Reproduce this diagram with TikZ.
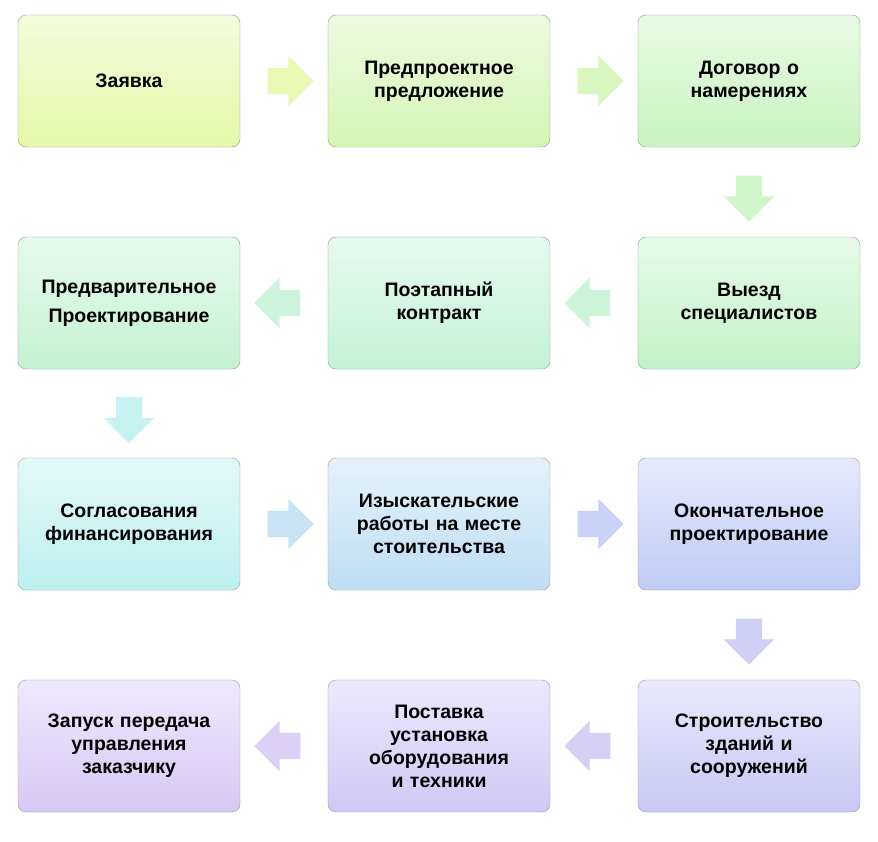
\documentclass[tikz,border=0pt]{standalone}
\usepackage{fontspec}
\setmainfont{Liberation Sans}
\usetikzlibrary{shapes.arrows,calc}
\definecolor{cA}{RGB}{228,248,168}
\definecolor{cB}{RGB}{212,245,180}
\definecolor{cC}{RGB}{200,243,190}
\definecolor{cD}{RGB}{195,242,210}
\definecolor{cE}{RGB}{195,242,215}
\definecolor{cF}{RGB}{195,242,200}
\definecolor{cG}{RGB}{188,240,238}
\definecolor{cH}{RGB}{190,222,242}
\definecolor{cI}{RGB}{192,202,245}
\definecolor{cJ}{RGB}{215,200,245}
\definecolor{cK}{RGB}{208,200,245}
\definecolor{cL}{RGB}{200,200,245}
\tikzset{
  stagebox/.style={draw=gray!80, rounded corners=8pt, minimum width=222pt, minimum height=132pt,
    text width=180pt, align=center, font=\bfseries\fontsize{19.5}{23}\selectfont,
    top color=white!60!#1, bottom color=#1},
  flowarrow/.style={single arrow, draw=none, minimum height=46pt, inner sep=13pt,
    single arrow head extend=12pt, fill=#1!85!white}
}
\begin{document}
\begin{tikzpicture}[x=1pt,y=1pt,yscale=-1]
\useasboundingbox (0,0) rectangle (878,841);
% row 1
\node[stagebox=cA] (zayavka) at (129,81) {Заявка};
\node[stagebox=cB] (predproekt) at (439,81) {Предпроектное предложение};
\node[stagebox=cC] (dogovor) at (749,81) {Договор о намерениях};
% row 2
\node[stagebox=cD] (predvar) at (129,303) {Предварительное\\[6pt]Проектирование};
\node[stagebox=cE] (poetap) at (439,303) {Поэтапный\\контракт};
\node[stagebox=cF] (vyezd) at (749,303) {Выезд\\специалистов};
% row 3
\node[stagebox=cG] (soglas) at (129,524) {Согласования финансирования};
\node[stagebox=cH] (izysk) at (439,524) {Изыскательские работы на месте стоительства};
\node[stagebox=cI] (okonch) at (749,524) {Окончательное проектирование};
% row 4
\node[stagebox=cJ] (zapusk) at (129,746) {Запуск передача управления заказчику};
\node[stagebox=cK] (postavka) at (439,746) {Поставка\\установка оборудования и техники};
\node[stagebox=cL] (stroit) at (749,746) {Строительство зданий и сооружений};
% arrows
\node[flowarrow=cA] (a1) at ($(zayavka.east)!0.5!(predproekt.west)$) {};
\node[flowarrow=cB] (a2) at ($(predproekt.east)!0.5!(dogovor.west)$) {};
\node[flowarrow=cC, shape border rotate=270] (a3) at ($(dogovor.south)!0.5!(vyezd.north)$) {};
\node[flowarrow=cD, shape border rotate=180] (a4) at ($(vyezd.west)!0.5!(poetap.east)$) {};
\node[flowarrow=cE, shape border rotate=180] (a5) at ($(poetap.west)!0.5!(predvar.east)$) {};
\node[flowarrow=cG, shape border rotate=270] (a6) at ($(predvar.south)!0.5!(soglas.north)$) {};
\node[flowarrow=cH] (a7) at ($(soglas.east)!0.5!(izysk.west)$) {};
\node[flowarrow=cI] (a8) at ($(izysk.east)!0.5!(okonch.west)$) {};
\node[flowarrow=cL, shape border rotate=270] (a9) at ($(okonch.south)!0.5!(stroit.north)$) {};
\node[flowarrow=cK, shape border rotate=180] (a10) at ($(stroit.west)!0.5!(postavka.east)$) {};
\node[flowarrow=cJ, shape border rotate=180] (a11) at ($(postavka.west)!0.5!(zapusk.east)$) {};
\end{tikzpicture}
\end{document}
